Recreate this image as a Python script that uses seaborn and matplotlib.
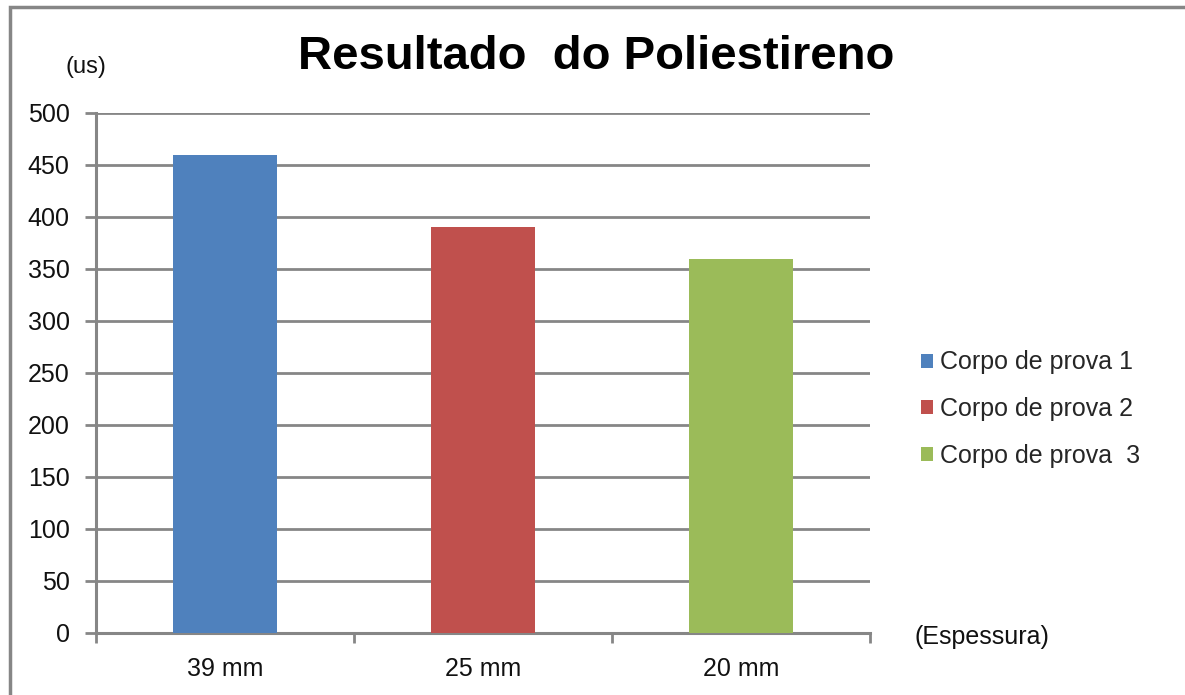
import matplotlib
matplotlib.use("Agg")
import matplotlib.pyplot as plt
import seaborn as sns
import pandas as pd
from matplotlib.patches import Rectangle

# Data
espessuras = ["39 mm", "25 mm", "20 mm"]
tempos = [460, 390, 360]
corpos = ["Corpo de prova 1", "Corpo de prova 2", "Corpo de prova  3"]
cores = ["#4F81BD", "#C0504D", "#9BBB59"]
y_ticks = [0, 50, 100, 150, 200, 250, 300, 350, 400, 450, 500]

df = pd.DataFrame({"espessura": espessuras, "tempo": tempos, "corpo": corpos})

sns.set_theme(style="white")
plt.rcParams["font.family"] = ["Liberation Sans", "DejaVu Sans"]

grid_col = "#868686"
W, H = 1185, 695
fig = plt.figure(figsize=(W / 100, H / 100), dpi=100)
ax = fig.add_axes([96 / W, 1 - 633 / H, (870 - 96) / W, (633 - 113) / H])

sns.barplot(data=df, x="espessura", y="tempo", hue="corpo", dodge=False,
            width=0.4, palette=cores, saturation=1, ax=ax, zorder=3,
            linewidth=0, edgecolor="none")

ax.set_ylim(0, 500)
ax.set_xlim(-0.5, 2.5)
ax.set_yticks(y_ticks)
ax.set_yticklabels([str(v) for v in y_ticks])
ax.set_xlabel("")
ax.set_ylabel("")

# Horizontal grid
ax.yaxis.grid(True, color=grid_col, linewidth=2.0, zorder=0)
ax.xaxis.grid(False)
ax.set_axisbelow(True)

for side in ["top", "right"]:
    ax.spines[side].set_visible(False)
for side in ["left", "bottom"]:
    ax.spines[side].set_color(grid_col)
    ax.spines[side].set_linewidth(2.2)

# Category boundary ticks on x axis
ax.set_xticks([-0.5, 0.5, 1.5, 2.5], minor=True)
ax.tick_params(axis="x", which="minor", bottom=True, length=7.5, width=2,
               color=grid_col)
ax.tick_params(axis="x", which="major", bottom=False, labelsize=18,
               labelcolor="#111111", pad=11)
ax.tick_params(axis="y", left=True, length=8, width=2, color=grid_col,
               labelsize=18, labelcolor="#111111", pad=11)

# Legend
handles, labels = ax.get_legend_handles_labels()
if ax.get_legend() is not None:
    ax.get_legend().remove()
fig.legend(handles, labels, loc="center left",
           bbox_to_anchor=(908 / W, 1 - 409 / H), frameon=False,
           fontsize=18, handlelength=0.5, handleheight=0.5,
           handletextpad=0.3, labelspacing=0.9, borderpad=0)

# Titles and unit labels
fig.text(596 / W, 1 - 57 / H, "Resultado  do Poliestireno", ha="center",
         va="center", fontsize=34, fontweight="bold", color="black")
fig.text(86 / W, 1 - 67 / H, "(us)", ha="center", va="center",
         fontsize=17, color="#111111")
fig.text(915 / W, 1 - 637 / H, "(Espessura)", ha="left", va="center",
         fontsize=18, color="#111111")

# Outer chart border
fig.patches.append(Rectangle((10 / W, -0.1), 1.2, 1 - 7 / H + 0.1,
                             transform=fig.transFigure, fill=False,
                             edgecolor=grid_col, linewidth=2.5))

fig.savefig("out.png", dpi=100, facecolor="white")
